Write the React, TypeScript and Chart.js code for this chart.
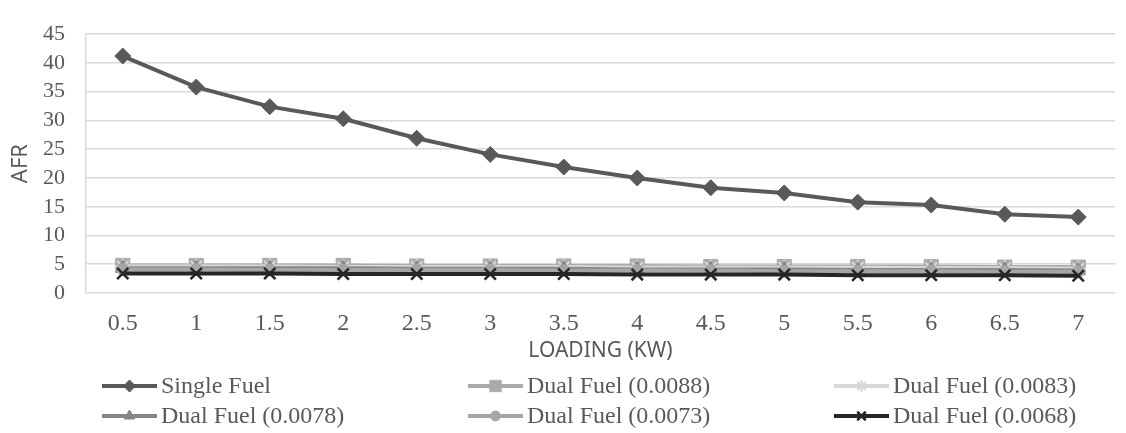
import React, { useEffect, useRef } from 'react';
import { Chart, registerables } from 'chart.js';
import { drawPoint } from 'chart.js/helpers';

Chart.register(...registerables);

const categories = ['0.5', '1', '1.5', '2', '2.5', '3', '3.5', '4', '4.5', '5', '5.5', '6', '6.5', '7'];
const singleFuel = [41.2, 35.8, 32.4, 30.3, 26.9, 24.1, 21.9, 20.0, 18.3, 17.4, 15.8, 15.3, 13.7, 13.2];
const dual0088 = [4.8, 4.8, 4.8, 4.8, 4.7, 4.7, 4.7, 4.7, 4.6, 4.6, 4.6, 4.6, 4.5, 4.5];
const dual0083 = [4.6, 4.6, 4.6, 4.5, 4.5, 4.5, 4.5, 4.4, 4.4, 4.4, 4.4, 4.3, 4.3, 4.2];
const dual0078 = [4.3, 4.3, 4.3, 4.3, 4.2, 4.2, 4.2, 4.1, 4.1, 4.1, 4.0, 4.0, 4.0, 3.9];
const dual0073 = [4.1, 4.1, 4.0, 4.0, 4.0, 4.0, 3.9, 3.9, 3.9, 3.8, 3.8, 3.8, 3.7, 3.7];
const dual0068 = [3.4, 3.4, 3.4, 3.3, 3.3, 3.3, 3.3, 3.2, 3.2, 3.2, 3.1, 3.1, 3.1, 3.0];
const seriesNames = [
  'Single Fuel',
  'Dual Fuel (0.0088)',
  'Dual Fuel (0.0083)',
  'Dual Fuel (0.0078)',
  'Dual Fuel (0.0073)',
  'Dual Fuel (0.0068)',
];
const yTicksMax = 45;
const yTickStep = 5;

const TEXT = '#595959';
const SERIF = "'Liberation Serif', 'Times New Roman', serif";
const SANS = "'Noto Sans', 'Open Sans', sans-serif";

const styles = [
  { color: '#595959', point: 'rectRot', r: 8, pbw: 1, lr: 6 },
  { color: '#ABABAB', point: 'rect', r: 10, pbw: 1, lr: 8 },
  { color: '#D9D9D9', point: 'star', r: 8, pbw: 2, lr: 6 },
  { color: '#858585', point: 'triangle', r: 8, pbw: 1, lr: 6 },
  { color: '#A5A5A5', point: 'circle', r: 6, pbw: 1, lr: 5 },
  { color: '#262626', point: 'crossRot', r: 8, pbw: 2.5, lr: 6 },
];

const legendPlugin = {
  id: 'gridLegend',
  afterDraw(chart: any) {
    const ctx = chart.ctx;
    const cols = [102, 468, 834];
    const rows = [386, 416];
    chart.data.datasets.forEach((ds: any, i: number) => {
      const st = styles[i];
      const x = cols[i % 3];
      const y = rows[Math.floor(i / 3)];
      ctx.save();
      ctx.strokeStyle = ds.borderColor;
      ctx.lineWidth = 4;
      ctx.lineCap = 'butt';
      ctx.beginPath();
      ctx.moveTo(x, y);
      ctx.lineTo(x + 55, y);
      ctx.stroke();
      ctx.fillStyle = ds.pointBackgroundColor;
      ctx.strokeStyle = ds.pointBorderColor;
      ctx.lineWidth = st.pbw;
      drawPoint(ctx, { pointStyle: st.point, rotation: 0, radius: st.lr, borderWidth: st.pbw } as any, x + 27.5, y);
      ctx.font = `24px ${SERIF}`;
      ctx.fillStyle = TEXT;
      ctx.textBaseline = 'middle';
      ctx.textAlign = 'left';
      ctx.fillText(ds.label, x + 59, y + 1);
      ctx.restore();
    });
  },
};

export default function App() {
  const ref = useRef<HTMLCanvasElement | null>(null);
  useEffect(() => {
    if (!ref.current) return;
    const series = [singleFuel, dual0088, dual0083, dual0078, dual0073, dual0068];
    const chart = new Chart(ref.current, {
      type: 'line',
      data: {
        labels: categories,
        datasets: series.map((d, i) => ({
          label: seriesNames[i],
          data: d,
          borderColor: styles[i].color,
          backgroundColor: styles[i].color,
          pointBackgroundColor: styles[i].color,
          pointBorderColor: styles[i].color,
          pointBorderWidth: styles[i].pbw,
          pointStyle: styles[i].point as any,
          pointRadius: styles[i].r,
          borderWidth: 4,
          tension: 0,
          fill: false,
          order: 5 - i,
        })),
      },
      options: {
        animation: false,
        responsive: false,
        layout: { padding: { left: 0, right: 2, top: 3, bottom: 69 } },
        plugins: { legend: { display: false }, tooltip: { enabled: false } },
        scales: {
          x: {
            type: 'category',
            offset: true,
            grid: { display: false, drawTicks: false },
            border: { display: false },
            ticks: {
              padding: 16,
              color: TEXT,
              font: { family: SERIF, size: 24 },
              maxRotation: 0,
              autoSkip: false,
            },
            title: {
              display: true,
              text: 'LOADING (KW)',
              color: TEXT,
              font: { family: SANS, size: 21 },
              padding: 0,
            },
            afterFit(s: any) {
              s.height = 71;
            },
          },
          y: {
            min: 0,
            max: yTicksMax,
            ticks: {
              stepSize: yTickStep,
              padding: 21,
              color: TEXT,
              autoSkip: false,
              font: { family: SERIF, size: 22 },
            },
            grid: { color: '#D9D9D9', lineWidth: 1.5, drawTicks: false },
            border: { display: true, color: '#D9D9D9', width: 1.5 },
            title: {
              display: true,
              text: 'AFR',
              color: TEXT,
              font: { family: SANS, size: 22 },
              padding: { top: 8, bottom: 0 },
            },
            afterFit(s: any) {
              s.width = 86;
            },
          },
        },
      },
      plugins: [legendPlugin],
    });
    return () => chart.destroy();
  }, []);
  return (
    <div style={{ position: 'absolute', left: 0, top: 0, width: 1126, height: 433, background: '#fff' }}>
      <canvas ref={ref} width={1126} height={433} style={{ width: 1126, height: 433, display: 'block' }} />
    </div>
  );
}
